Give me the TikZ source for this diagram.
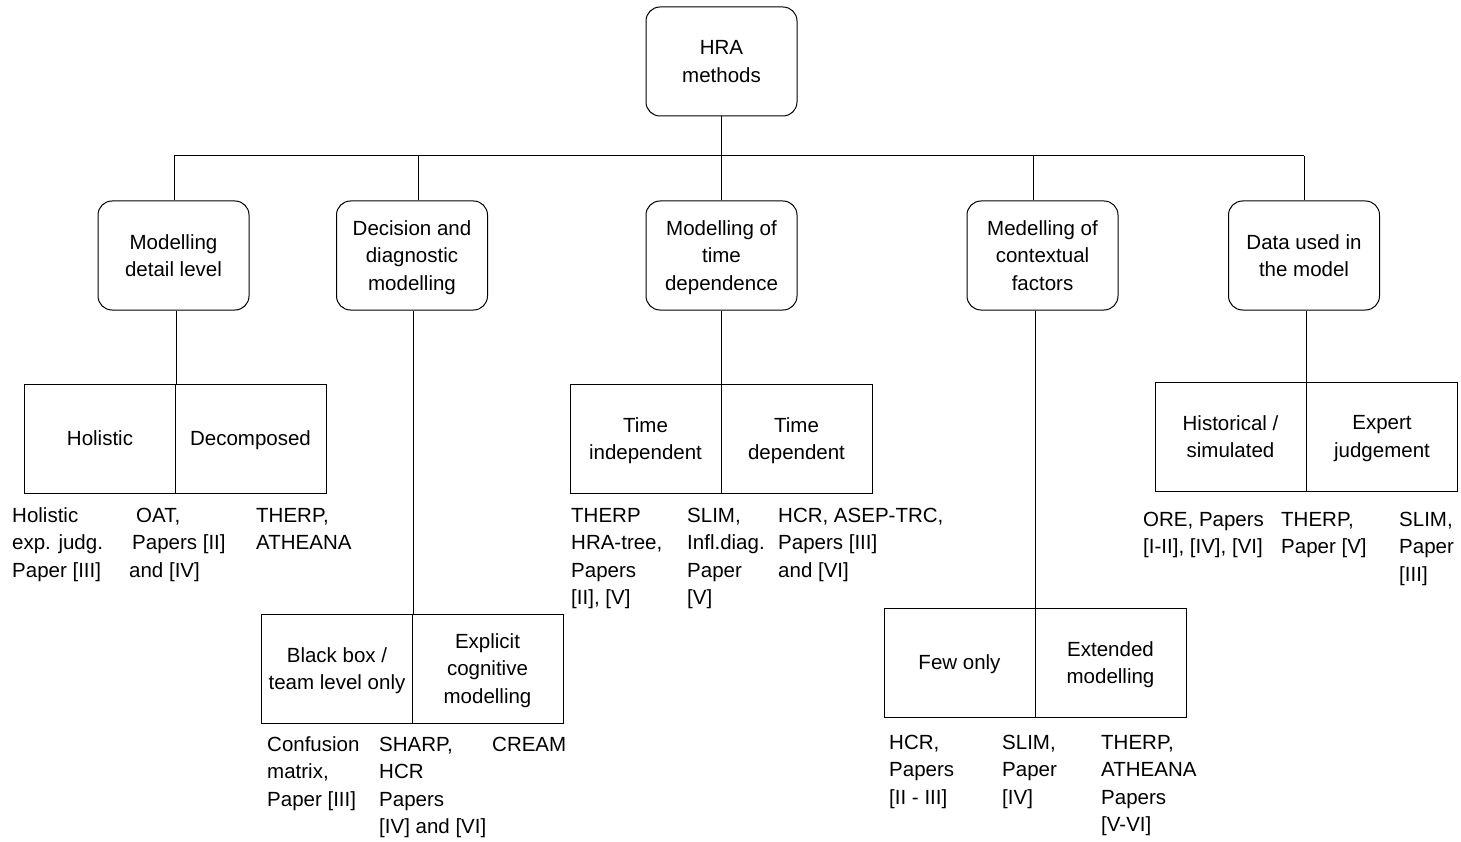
\documentclass[tikz,border=0pt]{standalone}
\usepackage{fontspec}
\setmainfont{Liberation Sans}
\begin{document}
\begin{tikzpicture}[x=1pt,y=-1pt,
  every node/.style={font=\fontsize{20.5}{27.5}\selectfont, inner sep=0pt},
  rbox/.style={draw, rounded corners=14pt, minimum width=151pt, minimum height=109pt, align=center, line width=1pt, text depth=0pt},
  half/.style={draw, minimum width=151pt, minimum height=109pt, align=center, line width=1pt, text depth=0pt},
  lbl/.style={anchor=north west, align=left},
  conn/.style={line width=1pt}]
\useasboundingbox (0,0) rectangle (1461,842);

% root and level-2 boxes
\node[rbox] (root) at (721.5,61.5) {HRA\\methods};
\node[rbox] (b1) at (173.5,255.5) {Modelling\\detail level};
\node[rbox] (b2) at (412,255.5) {Decision and\\diagnostic\\modelling};
\node[rbox] (b3) at (721.5,255.5) {Modelling of\\time\\dependence};
\node[rbox] (b4) at (1042.5,255.5) {Medelling of\\contextual\\factors};
\node[rbox] (b5) at (1304,255.5) {Data used in\\the model};

% split boxes
\node[half] (A1) at (100,438.5) {Holistic};
\node[half] (A2) at (250.5,438.5) {Decomposed};
\node[half] (B1) at (337,668.5) {Black box /\\team level only};
\node[half] (B2) at (487.5,668.5) {Explicit\\cognitive\\modelling};
\node[half] (C1) at (645.5,438.5) {Time\\independent};
\node[half] (C2) at (796.5,438.5) {Time\\dependent};
\node[half] (D1) at (959.5,662.5) {Few only};
\node[half] (D2) at (1110.5,662.5) {Extended\\modelling};
\node[half] (E1) at (1230.5,436.5) {Historical /\\simulated};
\node[half] (E2) at (1382,436.5) {Expert\\judgement};

% connectors
\coordinate (busL) at (174,156);
\coordinate (busR) at (1304,156);
\coordinate (d2) at (418,156);
\coordinate (d4) at (1033,156);
\draw[conn] (root.south) -- (root.south |- busL);
\draw[conn] (busL) -- (busR);
\draw[conn] (busL) -- (busL |- b1.north);
\draw[conn] (d2) -- (d2 |- b2.north);
\draw[conn] (b3.north) -- (b3.north |- busL);
\draw[conn] (d4) -- (d4 |- b4.north);
\draw[conn] (busR) -- (busR |- b5.north);
\draw[conn] (A1.north east) -- (A1.north east |- b1.south);
\draw[conn] (B1.north east) -- (B1.north east |- b2.south);
\draw[conn] (C1.north east) -- (C1.north east |- b3.south);
\draw[conn] (D1.north east) -- (D1.north east |- b4.south);
\draw[conn] (E1.north east) -- (E1.north east |- b5.south);

% method labels
\node[lbl] (a1) at (12,502) {\rule{0pt}{20pt}Holistic\\exp. judg.\\Paper {[III]}};
\node[lbl] (a2) at (129,502) {\rule{0pt}{20pt}\hspace*{7pt}OAT,\\\hspace*{3pt}Papers {[II]}\\and {[IV]}};
\node[lbl] (a3) at (256,502) {\rule{0pt}{20pt}THERP,\\ATHEANA};

\node[lbl] (p1) at (267,731) {\rule{0pt}{20pt}Confusion\\matrix,\\Paper {[III]}};
\node[lbl] (p2) at (379,731) {\rule{0pt}{20pt}SHARP,\\HCR\\Papers\\{[IV]} and {[VI]}};
\node[lbl] (p3) at (492,731) {\rule{0pt}{20pt}CREAM};

\node[lbl] (c1) at (571,502) {\rule{0pt}{20pt}THERP\\HRA-tree,\\Papers\\{[II]}, {[V]}};
\node[lbl] (c2) at (687,502) {\rule{0pt}{20pt}SLIM,\\Infl.diag.\\Paper\\{[V]}};
\node[lbl] (c3) at (778,502) {\rule{0pt}{20pt}HCR, ASEP-TRC,\\Papers {[III]}\\and {[VI]}};

\node[lbl] (f1) at (889,729) {\rule{0pt}{20pt}HCR,\\Papers\\{[II - III]}};
\node[lbl] (f2) at (1002,729) {\rule{0pt}{20pt}SLIM,\\Paper\\{[IV]}};
\node[lbl] (f3) at (1101,729) {\rule{0pt}{20pt}THERP,\\ATHEANA\\Papers\\{[V-VI]}};

\node[lbl] (e1) at (1143,506) {\rule{0pt}{20pt}ORE, Papers\\{[I-II]}, {[IV]}, {[VI]}};
\node[lbl] (e2) at (1281,506) {\rule{0pt}{20pt}THERP,\\Paper {[V]}};
\node[lbl] (e3) at (1399,506) {\rule{0pt}{20pt}SLIM,\\Paper\\{[III]}};
\end{tikzpicture}
\end{document}
